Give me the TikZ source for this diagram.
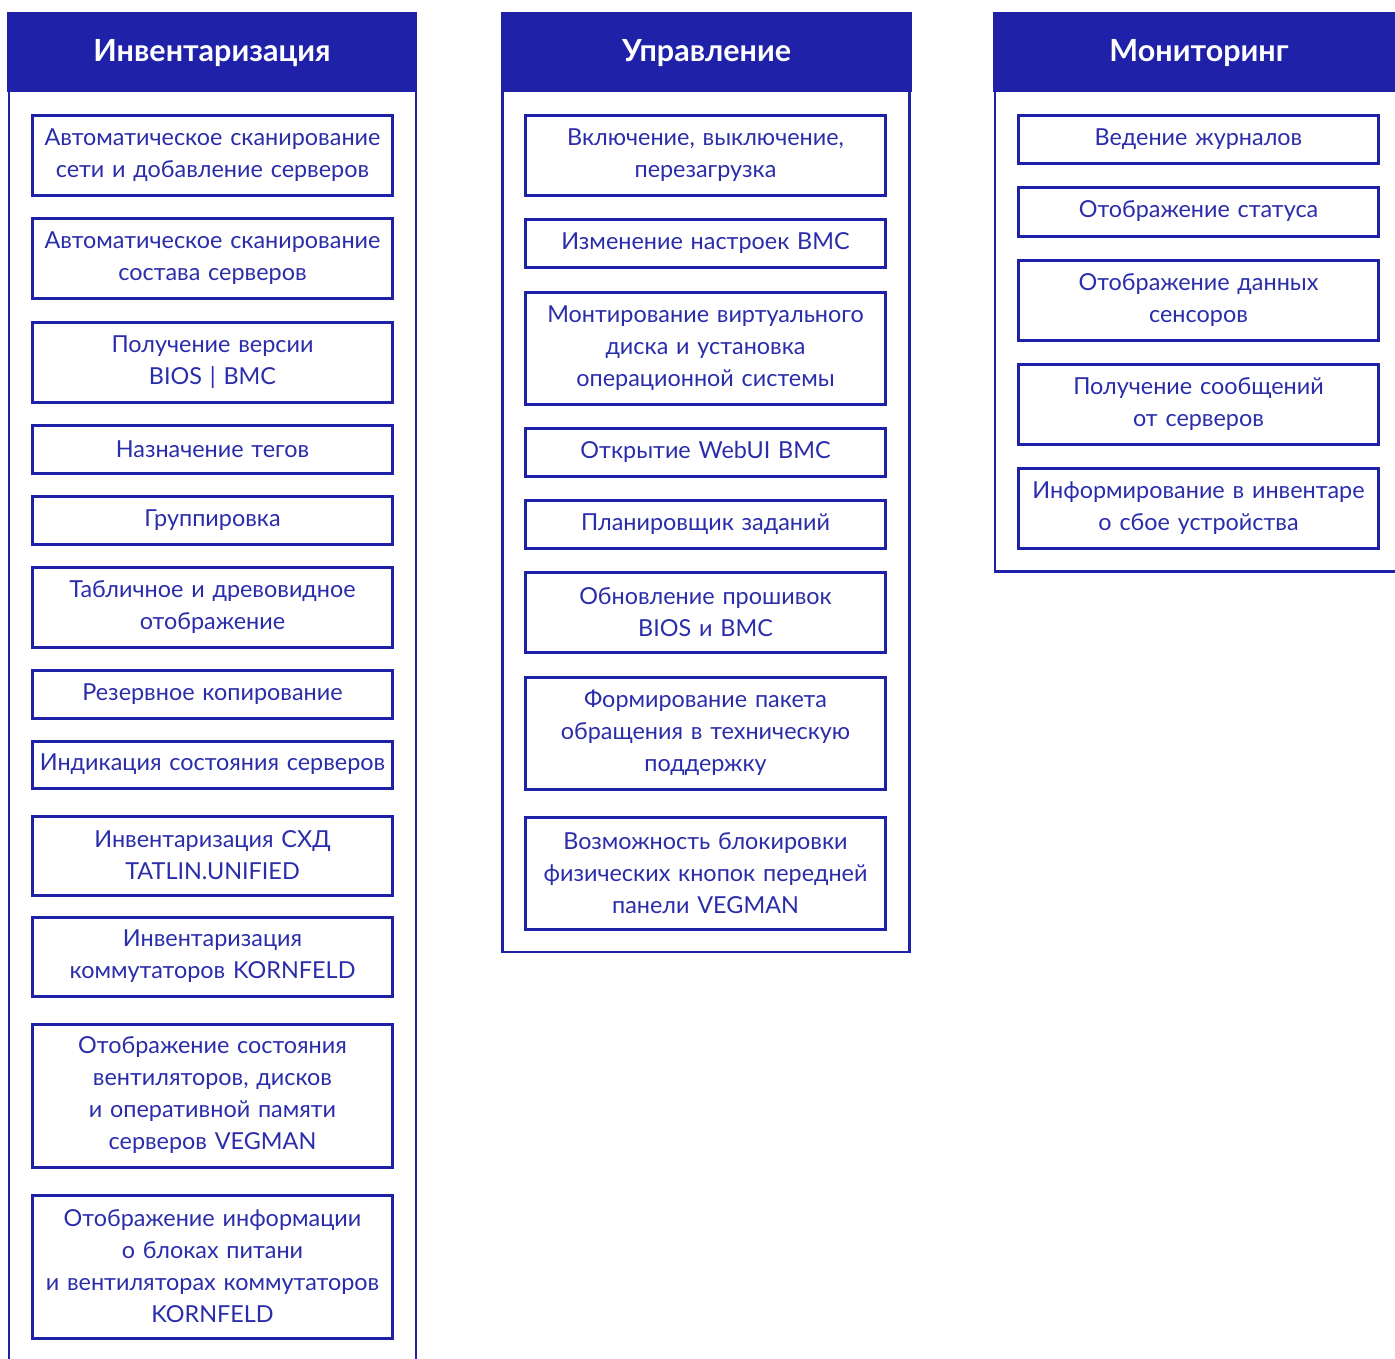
\documentclass[tikz,border=0pt]{standalone}
\usepackage{fontspec}
\setmainfont{Lato}
\definecolor{hdr}{HTML}{1F21A9}
\definecolor{txt}{HTML}{2A2DAA}
\begin{document}
\begin{tikzpicture}[x=1pt,y=-1pt,
  item/.style={draw=hdr, line width=3pt, minimum width=360pt, text width=356pt,
    align=center, inner sep=0pt, text=txt, font=\fontsize{23.4}{32}\selectfont},
  headbar/.style={fill=hdr, draw=none, minimum height=80pt, inner sep=0pt},
  headtext/.style={inner sep=0pt, text=white, font=\bfseries\fontsize{30.5}{34}\selectfont},
  frame/.style={draw=hdr, line width=2.5pt}]
\useasboundingbox (0,0) rectangle (1395,1358);

% panels
\node[headbar, minimum width=410pt] (h1) at (212,52) {};
\node[headbar, minimum width=411pt] (h2) at (706.5,52) {};
\node[headbar, minimum width=412pt] (h3) at (1199,52) {};
\node[headtext] (t1) at (212,53.5) {Инвентаризация};
\node[headtext] (t2) at (706.5,53.5) {Управление};
\node[headtext] (t3) at (1199,53.5) {Мониторинг};
\draw[frame] (9,92) -- (9,1370);
\draw[frame] (416,92) -- (416,1370);
\draw[frame] (502.5,92) -- (502.5,952) -- (909.5,952) -- (909.5,92);
\draw[frame] (995,92) -- (995,571.5) -- (1400,571.5);

% left column
\node[item, minimum height=80pt] (a1) at (212.5,155) {Автоматическое сканирование\\сети и добавление серверов};
\node[item, minimum height=80pt] (a2) at (212.5,258) {Автоматическое сканирование\\состава серверов};
\node[item, minimum height=80pt] (a3) at (212.5,362) {Получение версии\\BIOS | BMC};
\node[item, minimum height=48pt] (a4) at (212.5,449) {Назначение тегов};
\node[item, minimum height=48pt] (a5) at (212.5,520) {Группировка};
\node[item, minimum height=80pt] (a6) at (212.5,607) {Табличное и древовидное\\отображение};
\node[item, minimum height=48pt] (a7) at (212.5,694) {Резервное копирование};
\node[item, minimum height=47pt] (a8) at (212.5,764.5) {Индикация состояния серверов};
\node[item, minimum height=79pt] (a9) at (212.5,855.5) {Инвентаризация СХД\\TATLIN.UNIFIED};
\node[item, minimum height=79pt] (a10) at (212.5,956.5) {Инвентаризация\\коммутаторов KORNFELD};
\node[item, minimum height=143pt] (a11) at (212.5,1095.5) {Отображение состояния\\вентиляторов, дисков\\и оперативной памяти\\серверов VEGMAN};
\node[item, minimum height=143pt] (a12) at (212.5,1266.5) {Отображение информации\\о блоках питани\\и вентиляторах коммутаторов\\KORNFELD};

% middle column
\node[item, minimum height=80pt] (b1) at (705.5,155) {Включение, выключение,\\перезагрузка};
\node[item, minimum height=48pt] (b2) at (705.5,243) {Изменение настроек BMC};
\node[item, minimum height=112pt] (b3) at (705.5,348) {Монтирование виртуального\\диска и установка\\операционной системы};
\node[item, minimum height=48pt] (b4) at (705.5,452) {Открытие WebUI BMC};
\node[item, minimum height=48pt] (b5) at (705.5,524) {Планировщик заданий};
\node[item, minimum height=80pt] (b6) at (705.5,612) {Обновление прошивок\\BIOS и BMC};
\node[item, minimum height=112pt] (b7) at (705.5,733) {Формирование пакета\\обращения в техническую\\поддержку};
\node[item, minimum height=112pt] (b8) at (705.5,873) {Возможность блокировки\\физических кнопок передней\\панели VEGMAN};

% right column
\node[item, minimum height=48pt] (c1) at (1198.5,139) {Ведение журналов};
\node[item, minimum height=49pt] (c2) at (1198.5,211.5) {Отображение статуса};
\node[item, minimum height=80pt] (c3) at (1198.5,300) {Отображение данных\\сенсоров};
\node[item, minimum height=80pt] (c4) at (1198.5,404) {Получение сообщений\\от серверов};
\node[item, minimum height=80pt] (c5) at (1198.5,508) {Информирование в инвентаре\\о сбое устройства};
\end{tikzpicture}
\end{document}
